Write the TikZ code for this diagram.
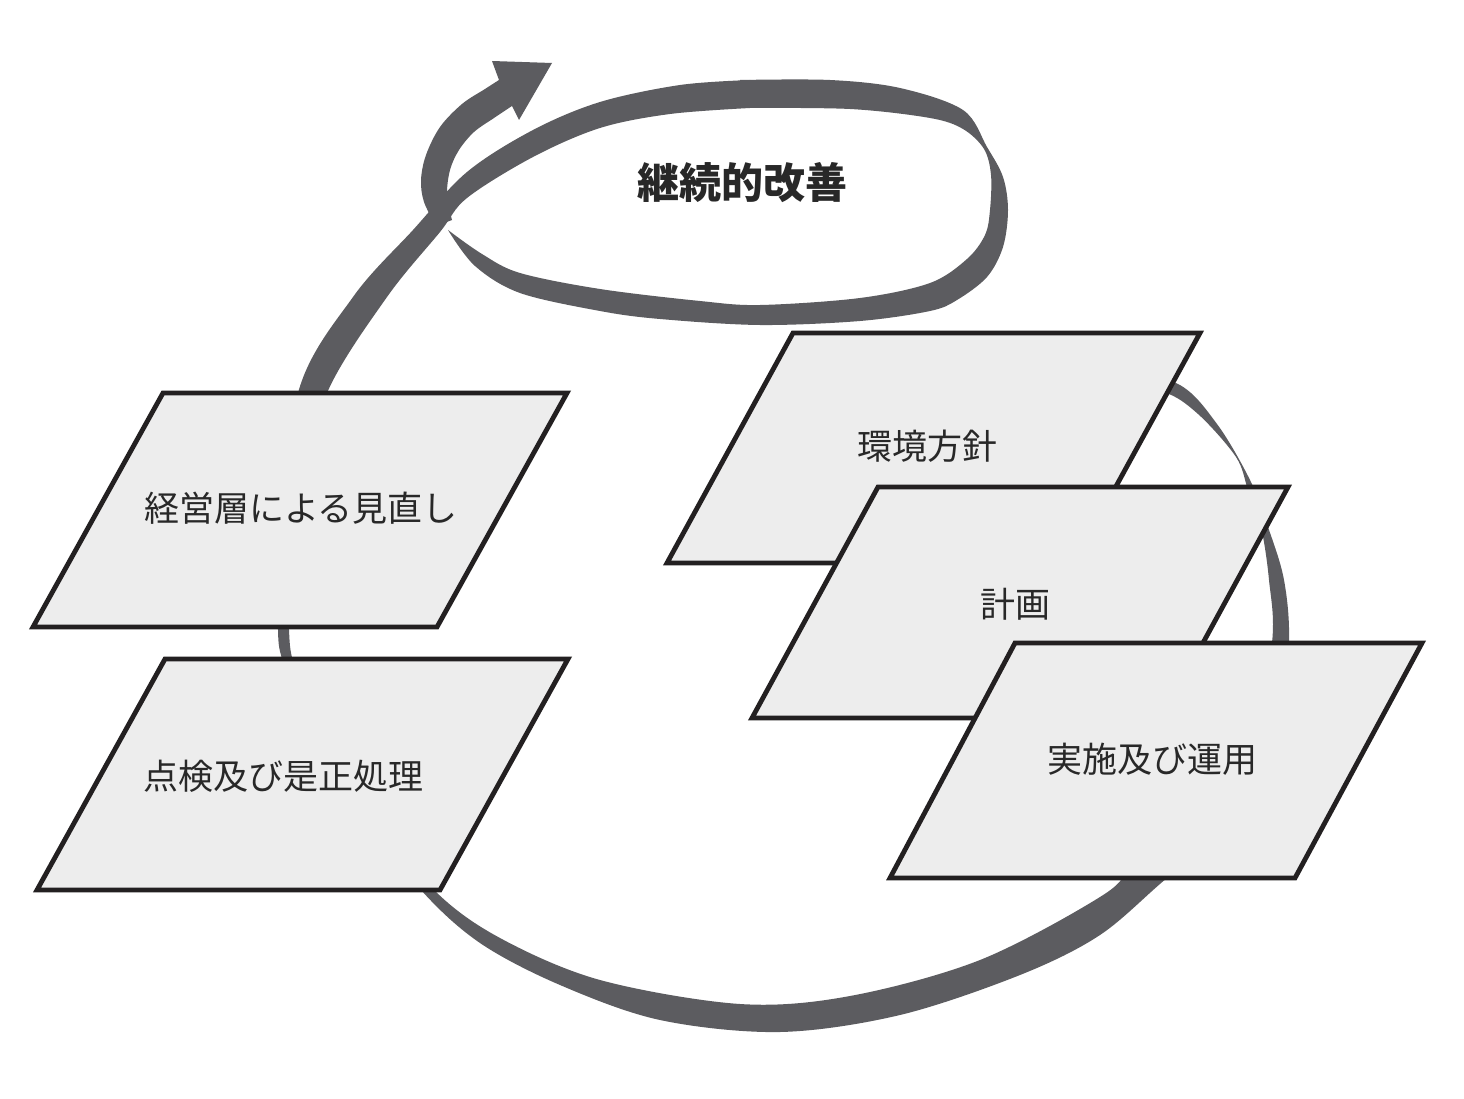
\documentclass[tikz,border=0pt]{standalone}
\usepackage{fontspec}
\newfontfamily\jp{Noto Sans CJK JP}
\definecolor{bandgray}{RGB}{92,92,96}
\definecolor{boxfill}{RGB}{237,237,237}
\definecolor{boxline}{RGB}{35,32,33}
\definecolor{txt}{RGB}{40,40,40}
\begin{document}
\begin{tikzpicture}[x=1pt,y=-1pt,
  band/.style={fill=bandgray},
  pbox/.style={draw=boxline, fill=boxfill, line width=4.8pt, line join=miter},
  lbl/.style={font=\jp\fontsize{35}{40}\selectfont, text=txt, inner sep=0pt},
  ttl/.style={font=\jp\bfseries\fontsize{42}{48}\selectfont, text=txt, inner sep=0pt}]
\useasboundingbox (0,0) rectangle (1464,1099);
\fill[white] (0,0) rectangle (1464,1099);

% ribbon: big lower loop and long band up to ellipse top
\fill[band] plot[smooth,tension=0.55] coordinates {(1110,370) (1178,384) (1217,424) (1250,480) (1268,527) (1284,580) (1289,643) (1280,740) (1240,820) (1167,878) (1100,935) (1020,975) (900,1015) (780,1032) (660,1020) (560,985) (480,943) (421,890) (360,810) (310,730) (284,665) (278,630) (282,560) (298,393) (353,297) (413,230) (467,172) (533,130) (600,102) (680,85) (750,80)}
 -- plot[smooth,tension=0.55] coordinates {(750,108) (670,114) (600,128) (533,157) (467,198) (440,232) (387,297) (327,393) (300,500) (290,600) (289,630) (294,665) (320,730) (365,805) (434,890) (500,938) (600,980) (740,1004) (850,996) (980,960) (1100,897) (1140,860) (1250,760) (1272,643) (1269,580) (1261,527) (1248,490) (1236,457) (1198,414) (1163,392) (1110,390)} -- cycle;

% ribbon: ellipse loop right side and bottom, ending in a tip
\fill[band] plot[smooth,tension=0.55] coordinates {(740,80) (830,80) (900,88) (963,110) (987,147) (1003,177) (1008,210) (1003,247) (987,277) (957,300) (930,311) (860,321) (760,325) (660,319) (600,311) (520,293) (475,266) (448,230)}
 -- plot[smooth,tension=0.55] coordinates {(448,230) (482,254) (520,273) (600,289) (700,301) (760,305) (860,298) (930,283) (967,259) (985,235) (990,210) (991,175) (984,149) (963,129) (930,118) (850,109) (740,108)} -- cycle;

% ribbon: arrow
\fill[band] plot[smooth,tension=0.55] coordinates {(436,226) (424,202) (421,180) (426,155) (440,127) (462,104) (485,89) (499,80)}
 -- (492,61) -- (552,63) -- (519,120)
 -- plot[smooth,tension=0.55] coordinates {(512,106) (494,118) (474,132) (459,150) (450,170) (447,195) (452,220)} -- cycle;

% parallelograms
\draw[pbox] (163,393) -- (567,393) -- (437,627) -- (33,627) -- cycle;
\draw[pbox] (165,659) -- (568,659) -- (440,890) -- (37,890) -- cycle;
\draw[pbox] (793,333) -- (1200,333) -- (1074,563) -- (667,563) -- cycle;
\draw[pbox] (878,487) -- (1288,487) -- (1162,718) -- (752,718) -- cycle;
\draw[pbox] (1015,643) -- (1422,643) -- (1295,878) -- (890,878) -- cycle;

% labels
\node[ttl] (kaizen) at (742,183) {継続的改善};
\node[lbl] (review) at (301,508) {経営層による見直し};
\node[lbl] (check) at (283,776) {点検及び是正処理};
\node[lbl] (policy) at (927,446) {環境方針};
\node[lbl] (plan) at (1015,604) {計画};
\node[lbl] (doop) at (1152,759) {実施及び運用};
\end{tikzpicture}
\end{document}
